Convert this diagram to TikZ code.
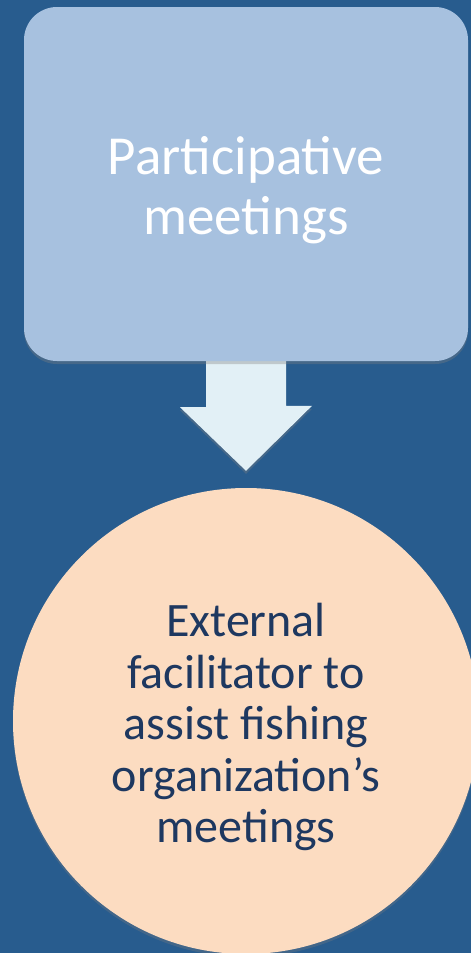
\documentclass[tikz,border=0pt]{standalone}
\usepackage{fontspec}
\setmainfont{Carlito}
\usepackage{xcolor}
\usetikzlibrary{shadows,calc}

\definecolor{pagebg}{RGB}{40,92,142}
\definecolor{boxfill}{RGB}{167,193,223}
\definecolor{arrowfill}{RGB}{226,240,246}
\definecolor{roundfill}{RGB}{252,220,193}
\definecolor{roundtext}{RGB}{30,56,96}

\pgfdeclarelayer{back}
\pgfsetlayers{back,main}

% extra room above the first line, to push the text block down
\newcommand\padtop[2]{\raisebox{0pt}[\dimexpr\height+#1\relax]{#2}}

\tikzset{
  stepbox/.style={rectangle, rounded corners=33pt, fill=boxfill, text=white,
    minimum width=444pt, minimum height=354pt, align=center,
    font=\fontsize{55}{60}\selectfont,
    drop shadow={shadow xshift=0pt, shadow yshift=-3pt, opacity=0.35}},
  roundbox/.style={circle, fill=roundfill, text=roundtext,
    minimum size=466pt, align=center, inner sep=0pt,
    font=\fontsize{48}{51.5}\selectfont,
    drop shadow={shadow xshift=0pt, shadow yshift=-3pt, opacity=0.3}},
  blockarrow/.style={fill=arrowfill,
    drop shadow={shadow xshift=0pt, shadow yshift=-3pt, opacity=0.35}}
}

\begin{document}
\begin{tikzpicture}[x=1pt, y=-1pt]
  % Page and background
  \useasboundingbox (0,0) rectangle (471,953);
  \clip (0,0) rectangle (471,953);
  \begin{pgfonlayer}{back}
    \fill[pagebg] (0,0) rectangle (471,953);
  \end{pgfonlayer}

  % The two steps
  \node[stepbox] (meetings) at (246,184) {\padtop{12pt}{Participative}\\meetings};
  \node[roundbox] (facilitator) at (246,721)
    {\padtop{12pt}{External}\\facilitator to\\assist fishing\\organization’s\\meetings};

  % Block arrow between them
  \coordinate (tip) at ($(facilitator.north)+(0,-17)$);
  \begin{pgfonlayer}{back}
    \fill[blockarrow] ($(meetings.south)+(-40,0)$) -- ++(0,46) -- ++(-26,0)
      -- (tip) -- ++(66,-65) -- ++(-26,0) -- ++(0,-46) -- cycle;
  \end{pgfonlayer}
\end{tikzpicture}
\end{document}
